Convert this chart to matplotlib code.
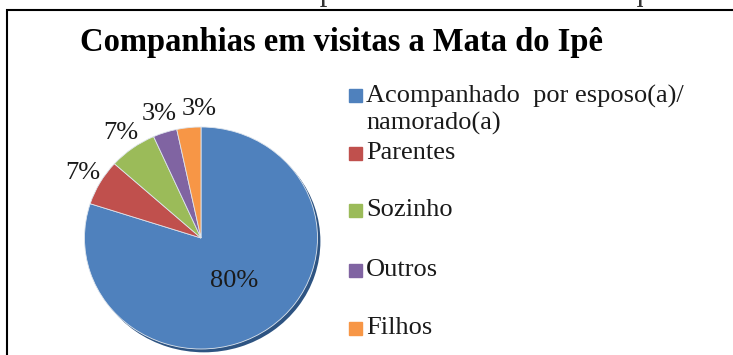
import matplotlib.pyplot as plt
from matplotlib.patches import Rectangle

plt.rcParams['font.family'] = ['Liberation Serif', 'DejaVu Serif']

title = "Companhias em visitas a Mata do Ipê"
caption = "Gráfico 1 – Companhias em visitas ao Parque"
labels = ["Acompanhado  por esposo(a)/\nnamorado(a)", "Parentes", "Sozinho", "Outros", "Filhos"]
values = [24, 2, 2, 1, 1]
colors = ["#4F81BD", "#C0504D", "#9BBB59", "#8064A2", "#F79646"]
shade = ["#2E5482", "#8E3230", "#6E8A3A", "#5A4378", "#B86A2A"]

W, H = 733, 355
fig = plt.figure(figsize=(W / 100, H / 100), dpi=100)

# frame of the chart box (cut at right and bottom)
fig.patches.append(Rectangle((7 / W, -0.2), 1.2, 1.2 - 10 / H,
                             transform=fig.transFigure, fill=False,
                             edgecolor="black", linewidth=1.5))
# caption above, almost fully cut off in the original
fig.text(393 / W, 1.0, caption, ha="center", va="baseline", fontsize=22,
         color="#333333")

fig.text(80 / W, 1 - 51 / H, title, ha="left", va="baseline", fontsize=23.5, fontweight="bold")

ax = fig.add_axes([84.5 / W, 6 / H, 233 / W, 222 / H])
total = sum(values)
pct = [f"{round(v / total * 100)}%" for v in values]

# darker copy underneath for the 3D rim
ax.pie(values, colors=shade, startangle=90, counterclock=False,
       center=(0.025, -0.03), radius=1.0)
wedges, texts, autotexts = ax.pie(
    values, colors=colors, startangle=90, counterclock=False,
    labels=[""] + pct[1:], labeldistance=1.17,
    autopct=lambda p: f"{p:.0f}%" if p > 50 else "", pctdistance=0.48,
    wedgeprops=dict(edgecolor="#dfe6ee", linewidth=0.6),
    textprops=dict(fontsize=19, color="#1a1a1a"))
for t in texts:
    t.set_ha("center")
    t.set_va("center")
# the last label sits a little to the right so the two 3% do not collide
x, y = texts[-1].get_position()
texts[-1].set_position((x + 0.11, y))
ax.set_aspect("auto")
ax.set_xlim(-1, 1)
ax.set_ylim(-1, 1)

# legend drawn by hand to keep the spacing of the original
ys = [110, 153, 210, 270, 328]
mk = [95, 153, 210, 270, 328]
for lab, c, y, m in zip(labels, colors, ys, mk):
    fig.patches.append(Rectangle((349 / W, 1 - (m + 6.5) / H), 13 / W, 13 / H,
                                 transform=fig.transFigure, color=c))
    fig.text(366 / W, 1 - y / H, lab, ha="left", va="center", fontsize=19,
             linespacing=1.2, color="#1a1a1a")

fig.savefig("out.png", dpi=100)
